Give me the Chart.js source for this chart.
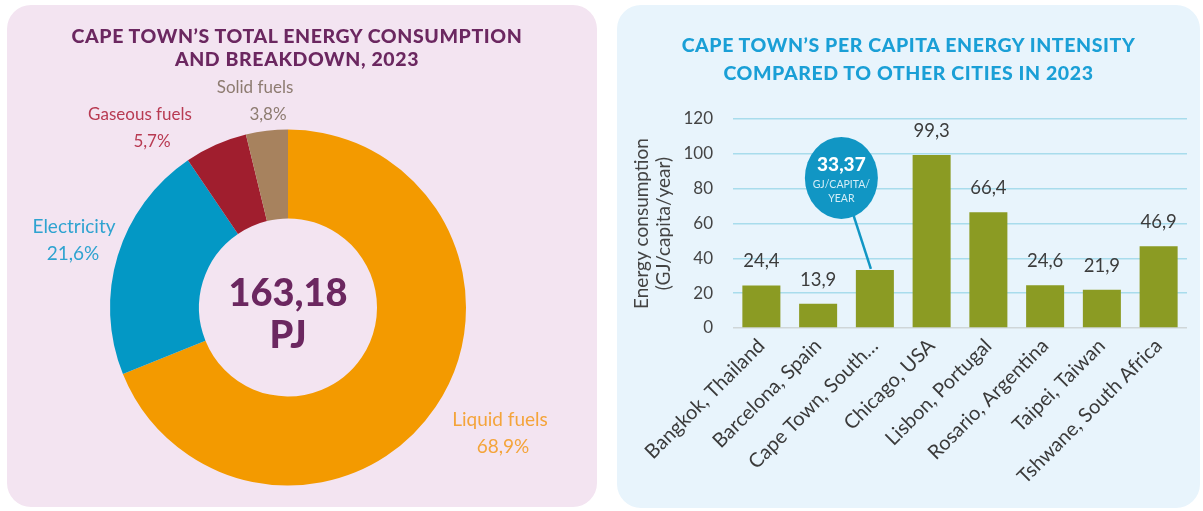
<!DOCTYPE html>
<html>
<head>
<meta charset="utf-8">
<script src="https://cdn.jsdelivr.net/npm/chart.js@4.4.0/dist/chart.umd.min.js"></script>
<style>
  body { margin: 0; background: #fff; width: 1203px; height: 511px; position: relative; overflow: hidden; font-family: Lato, "Open Sans", sans-serif; }
  .panel { position: absolute; border-radius: 24px; overflow: hidden; }
  #leftPanel { left: 7px; top: 5px; width: 590px; height: 502px; background: #f3e4f1; }
  #rightPanel { left: 617px; top: 5px; width: 583px; height: 503px; background: #e8f4fc; }
  .panel canvas { position: absolute; left: 0; top: 0; }
  .title { position: absolute; left: 0; text-align: center; font-weight: 900; font-size: 19.5px; letter-spacing: 0.6px; white-space: nowrap; }
  #leftTitle { top: 19px; width: 580px; line-height: 23px; color: #6b2760; }
  #rightTitle { top: 26px; width: 583px; line-height: 28px; color: #1a9fd6; }
</style>
</head>
<body>
<div class="panel" id="leftPanel">
  <canvas id="energyDonut" width="590" height="502"></canvas>
  <div class="title" id="leftTitle">CAPE TOWN’S TOTAL ENERGY CONSUMPTION<br>AND BREAKDOWN, 2023</div>
</div>
<div class="panel" id="rightPanel">
  <canvas id="intensityBars" width="583" height="503"></canvas>
  <div class="title" id="rightTitle">CAPE TOWN’S PER CAPITA ENERGY INTENSITY<br>COMPARED TO OTHER CITIES IN 2023</div>
</div>
<script>
// energy breakdown (percent of total)
const fuelTypes = ['Liquid fuels', 'Electricity', 'Gaseous fuels', 'Solid fuels'];
const fuelShares = [68.9, 21.6, 5.7, 3.8];
const totalEnergy = '163,18';
const totalUnit = 'PJ';

// per capita intensity, GJ/capita/year
const cities = ['Bangkok, Thailand', 'Barcelona, Spain', 'Cape Town, South…', 'Chicago, USA',
  'Lisbon, Portugal', 'Rosario, Argentina', 'Taipei, Taiwan', 'Tshwane, South Africa'];
const intensity = [24.4, 13.9, 33.37, 99.3, 66.4, 24.6, 21.9, 46.9];
const highlightIndex = 2;
const highlightUnit = ['GJ/CAPITA/', 'YEAR'];

const fuelColours = ['#f39a00', '#0398c5', '#a01e2e', '#a7825e'];
const fuelTextColours = ['#f4a43a', '#2ea3d0', '#b83a52', '#8d7b70'];

Chart.defaults.font.family = 'Lato, "Open Sans", sans-serif';

function comma(v, d) {
    return v.toFixed(d).replace('.', ',');
}

// labels around the doughnut, offsets from the centre
const sliceLabels = {
    id: 'sliceLabels',
    afterDatasetsDraw(chart) {
        const ctx = chart.ctx;
        const arc = chart.getDatasetMeta(0).data[0];
        const cx = arc.x, cy = arc.y;
        // [name dx, name dy, pct dx, font size]
        const offs = [
            [212, 112, 215, 19],
            [-214, -81, -215, 19],
            [-148, -193, -136, 17],
            [-33, -220, -20, 17]
        ];
        ctx.save();
        ctx.textAlign = 'center';
        ctx.textBaseline = 'middle';
        fuelTypes.forEach((name, i) => {
            ctx.font = offs[i][3] + 'px Lato, "Open Sans", sans-serif';
            ctx.fillStyle = fuelTextColours[i];
            ctx.fillText(name, cx + offs[i][0], cy + offs[i][1]);
            ctx.fillText(comma(fuelShares[i], 1) + '%', cx + offs[i][2], cy + offs[i][1] + 27);
        });
        // total in the hole
        ctx.fillStyle = '#6b2760';
        ctx.font = '900 38px Lato, "Open Sans", sans-serif';
        ctx.fillText(totalEnergy, cx, cy - 14);
        ctx.fillText(totalUnit, cx, cy + 28);
        ctx.restore();
    }
};

new Chart(document.getElementById('energyDonut'), {
    type: 'doughnut',
    data: {
        labels: fuelTypes,
        datasets: [{
            data: fuelShares,
            backgroundColor: fuelColours,
            borderWidth: 0
        }]
    },
    options: {
        responsive: false,
        animation: false,
        cutout: '50%',
        layout: { padding: { left: 103, right: 131, top: 124.5, bottom: 21.5 } },
        plugins: { legend: { display: false }, tooltip: { enabled: false } }
    },
    plugins: [sliceLabels]
});

// value labels on the bars + the callout bubble
const barLabels = {
    id: 'barLabels',
    afterDatasetsDraw(chart) {
        const ctx = chart.ctx;
        const bars = chart.getDatasetMeta(0).data;
        ctx.save();
        ctx.font = '18.5px Lato, "Open Sans", sans-serif';
        ctx.fillStyle = '#3c3c3c';
        ctx.textAlign = 'center';
        ctx.textBaseline = 'middle';
        bars.forEach((bar, i) => {
            if (i === highlightIndex) return;
            ctx.fillText(comma(intensity[i], 1), bar.x, bar.y - 24);
        });

        const b = bars[highlightIndex];
        const bx = b.x - 33.5, by = b.y - 92;
        ctx.strokeStyle = '#1196c4';
        ctx.lineWidth = 2.5;
        ctx.beginPath();
        ctx.moveTo(b.x - 4, b.y - 1);
        ctx.lineTo(bx, by);
        ctx.stroke();
        ctx.fillStyle = '#1196c4';
        ctx.beginPath();
        ctx.ellipse(bx, by, 36.5, 41, 0, 0, Math.PI * 2);
        ctx.fill();
        ctx.fillStyle = '#ffffff';
        ctx.font = '900 19px Lato, "Open Sans", sans-serif';
        ctx.fillText(comma(intensity[highlightIndex], 2), bx, by - 13);
        ctx.fillStyle = '#d4edf7';
        ctx.font = '10.5px Lato, "Open Sans", sans-serif';
        ctx.fillText(highlightUnit[0], bx, by + 7);
        ctx.fillText(highlightUnit[1], bx, by + 21);
        ctx.restore();
    }
};

new Chart(document.getElementById('intensityBars'), {
    type: 'bar',
    data: {
        labels: cities,
        datasets: [{
            data: intensity,
            backgroundColor: '#8b9b23',
            categoryPercentage: 1,
            barPercentage: 0.67
        }]
    },
    options: {
        responsive: false,
        animation: false,
        layout: { padding: { left: 5, right: 13, top: 114, bottom: 5 } },
        plugins: { legend: { display: false }, tooltip: { enabled: false } },
        scales: {
            x: {
                grid: { display: false, drawTicks: false },
                border: { display: false },
                ticks: { font: { size: 20 }, color: '#3a3a3a', minRotation: 45, maxRotation: 45, padding: 6, autoSkip: false },
                afterFit: s => { s.height = 175; }
            },
            y: {
                min: 0,
                max: 120,
                ticks: { stepSize: 20, padding: 20, font: { size: 17 }, color: '#444' },
                grid: {
                    drawTicks: false,
                    lineWidth: 1.5,
                    color: c => c.tick && c.tick.value === 0 ? '#cfd6d8' : '#a8dcec'
                },
                border: { display: false },
                title: {
                    display: true,
                    text: ['Energy consumption', '(GJ/capita/year)'],
                    font: { size: 19, lineHeight: 1.2 },
                    color: '#444',
                    padding: { top: 8, bottom: 0 }
                },
                afterFit: s => { s.width = 111; }
            }
        }
    },
    plugins: [barLabels]
});
</script>
</body>
</html>
